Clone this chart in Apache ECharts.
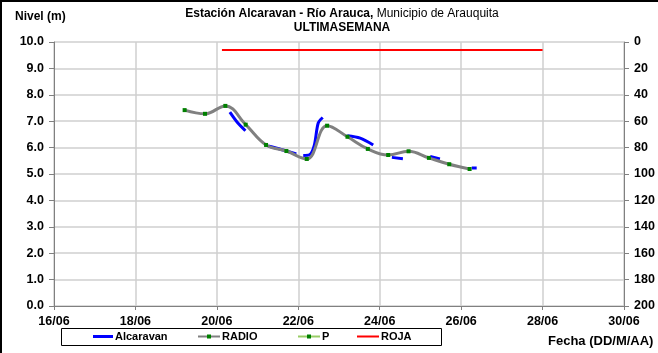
<!DOCTYPE html>
<html><head><meta charset="utf-8">
<script src="https://cdn.jsdelivr.net/npm/echarts@6/dist/echarts.min.js"></script>
<style>html,body{margin:0;padding:0;background:#fff}#c{width:658px;height:353px}</style>
</head><body><div id="c"></div>
<script>
// ---- data (dd/MM HH:mm, year 2023) ----
const xTickDates = ['16/06','18/06','20/06','22/06','24/06','26/06','28/06','30/06'];
const leftTicks = [0,1,2,3,4,5,6,7,8,9,10];
const rightTicks = [0,20,40,60,80,100,120,140,160,180,200];

const radioTimes = ['19/06 05:00','19/06 17:00','20/06 05:00','20/06 17:00','21/06 05:00','21/06 17:00',
  '22/06 05:00','22/06 17:00','23/06 05:00','23/06 17:00','24/06 05:00','24/06 17:00','25/06 05:00','25/06 17:00','26/06 05:00'];
const radioValues = [7.42,7.28,7.58,6.87,6.10,5.87,5.57,6.83,6.41,5.95,5.72,5.86,5.61,5.37,5.19];

const alcTimes = ['20/06 07:40','20/06 12:00','20/06 16:50',null,
  '21/06 06:15','21/06 13:55','21/06 22:50',null,
  '22/06 02:55','22/06 06:30','22/06 09:20','22/06 11:45','22/06 14:25',null,
  '23/06 04:50','23/06 12:30','23/06 20:10',null,
  '24/06 07:10','24/06 13:40',null,
  '25/06 05:45','25/06 11:30',null,
  '26/06 06:15','26/06 09:10'];
const alcValues = [7.34,6.96,6.64,null,
  6.06,5.93,5.76,null,
  5.70,5.72,6.06,6.93,7.14,null,
  6.45,6.36,6.10,null,
  5.63,5.58,null,
  5.66,5.57,null,
  5.23,5.23];

const pTimes = [];
const pValues = [];

const rojaTimes = ['20/06 03:00','28/06 00:00'];
const rojaValues = [9.7,9.7];

// ---- helpers ----
function t(s){
  const [d,hm] = s.split(' ');
  const [day,mon] = d.split('/');
  const [h,m] = (hm||'00:00').split(':');
  return Date.UTC(2023, +mon-1, +day, +h, +m);
}
function pairs(ts, vs){
  return ts.map((s,i)=> (s===null || vs[i]===null) ? ['-','-'] : [t(s), vs[i]]);
}
const DAY = 86400000;
const pad = n => (n<10?'0':'')+n;
const F = 'Liberation Sans, Arial, sans-serif';
const lbl = {fontFamily:F, fontWeight:'bold', fontSize:12.5, color:'#000'};
const legText = {fontFamily:F, fontWeight:'bold', fontSize:11, color:'#000', padding:[0,0,0,-3]};

const chart = echarts.init(document.getElementById('c'));

chart.setOption({
  animation:false,
  backgroundColor:'#fff',
  textStyle:{fontFamily:F},
  title:[
    {text:'{b|Estación Alcaravan - Río Arauca,}{n| Municipio de Arauquita}', left:337, top:3, textAlign:'center',
     textStyle:{fontWeight:'normal', rich:{b:{fontFamily:F,fontWeight:'bold',fontSize:12,color:'#000'},n:{fontFamily:F,fontWeight:'normal',fontSize:12,color:'#000'}}}},
    {text:'ULTIMASEMANA', left:337, top:17, textAlign:'center', textStyle:{fontFamily:F,fontWeight:'bold',fontSize:12,color:'#000'}},
    {text:'Nivel (m)', left:10, top:6, textStyle:{fontFamily:F,fontWeight:'bold',fontSize:12,color:'#000'}},
    {text:'Fecha (DD/M/AA)', left:543, top:330, textStyle:{fontFamily:F,fontWeight:'bold',fontSize:13,color:'#000'}}
  ],
  graphic:[
    {type:'rect', shape:{x:1,y:1,width:700,height:400}, style:{fill:'none', stroke:'#000', lineWidth:2}, silent:true},
    {type:'rect', shape:{x:61.5,y:328.5,width:380,height:17}, style:{fill:'none', stroke:'#000', lineWidth:1}, silent:true}
  ],
  legend:[
    {left:93, top:331, padding:0, itemGap:0, itemWidth:20, itemHeight:3, icon:'rect', textStyle:legText, data:['Alcaravan']},
    {left:197, top:331, padding:0, itemGap:0, itemWidth:22, itemHeight:5, textStyle:legText, data:['RADIO']},
    {left:297, top:331, padding:0, itemGap:0, itemWidth:22, itemHeight:5, textStyle:legText, data:['P']},
    {left:357, top:331, padding:0, itemGap:0, itemWidth:22, itemHeight:2, icon:'rect', textStyle:legText, data:['ROJA']}
  ],
  grid:{left:54, right:34, top:42, bottom:47},
  xAxis:{
    type:'value', min:t(xTickDates[0]+' 00:00'), max:t(xTickDates[xTickDates.length-1]+' 00:00'), interval:2*DAY,
    axisLine:{lineStyle:{color:'#808080', width:1}},
    axisTick:{show:true, length:4, lineStyle:{color:'#808080'}},
    splitLine:{show:true, lineStyle:{color:'#cfcfcf', width:1.5}},
    axisLabel:Object.assign({margin:9, formatter:v=>{const d=new Date(v);return pad(d.getUTCDate())+'/'+pad(d.getUTCMonth()+1);}}, lbl)
  },
  yAxis:[
    {type:'value', min:leftTicks[0], max:leftTicks[leftTicks.length-1], interval:1,
     axisLine:{show:true, lineStyle:{color:'#808080'}},
     axisTick:{show:true, length:5, lineStyle:{color:'#808080'}},
     splitLine:{show:true, lineStyle:{color:'#cfcfcf', width:1.5}},
     axisLabel:Object.assign({margin:10, formatter:v=>v.toFixed(1)}, lbl)},
    {type:'value', min:rightTicks[0], max:rightTicks[rightTicks.length-1], interval:20, inverse:true, position:'right',
     axisLine:{show:true, lineStyle:{color:'#808080'}},
     axisTick:{show:true, length:5, lineStyle:{color:'#808080'}},
     splitLine:{show:false},
     axisLabel:Object.assign({margin:10}, lbl)}
  ],
  series:[
    {name:'Alcaravan', type:'line', data:pairs(alcTimes, alcValues), showSymbol:false, symbol:'none',
     connectNulls:false, smooth:0.3, color:'#0000ff', lineStyle:{color:'#0000ff', width:3}, z:2},
    {name:'RADIO', type:'line', data:pairs(radioTimes, radioValues), smooth:0.4, symbol:'rect', symbolSize:4,
     color:'#008000', itemStyle:{color:'#008000'}, lineStyle:{color:'#808080', width:3}, z:3},
    {name:'P', type:'line', data:pairs(pTimes, pValues), symbol:'rect', symbolSize:4,
     itemStyle:{color:'#008000'}, lineStyle:{color:'#99cc66', width:2}},
    {name:'ROJA', type:'line', data:pairs(rojaTimes, rojaValues), symbol:'none',
     color:'#ff0000', lineStyle:{color:'#ff0000', width:2}}
  ]
});
</script></body></html>
